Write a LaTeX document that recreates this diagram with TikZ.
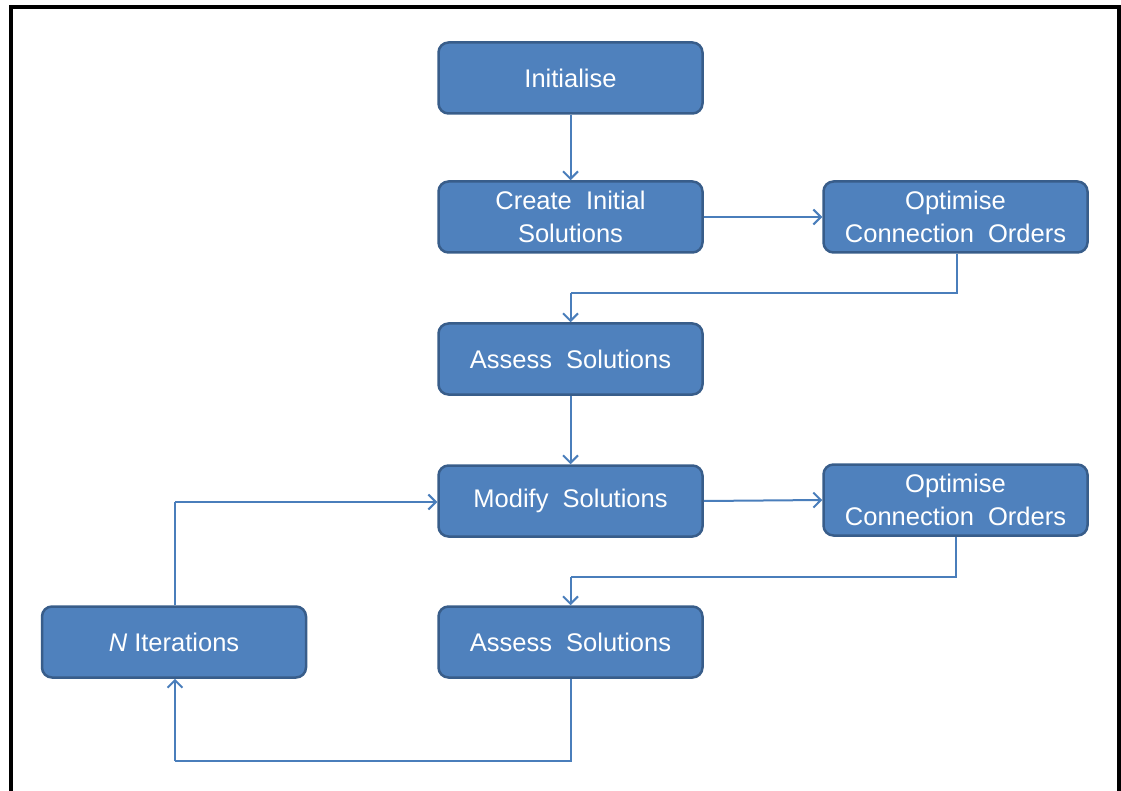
\documentclass[tikz,border=0pt]{standalone}
\usepackage{fontspec}
\setmainfont{Liberation Sans}
\usetikzlibrary{arrows.meta}
\definecolor{boxfill}{HTML}{4F81BD}
\definecolor{boxline}{HTML}{385D8A}
\definecolor{linkcol}{HTML}{4A7EBB}
\begin{document}
\begin{tikzpicture}[x=1pt,y=-1pt,
  stepbox/.style={draw=boxline, fill=boxfill, line width=2.5pt, rounded corners=10pt,
    minimum width=264pt, minimum height=71pt, inner sep=0pt, align=center,
    text=white, font=\fontsize{25.5}{33}\selectfont},
  link/.style={draw=linkcol, line width=2pt,
    -{Straight Barb[length=7.5pt,width=15pt,line width=2pt]}},
  plain/.style={draw=linkcol, line width=2pt}]
\useasboundingbox (0,0) rectangle (1121,791);
% frame, open at the bottom
\draw[line width=4pt] (10.5,800) -- (10.5,7.5) -- (1119,7.5) -- (1119,800);

\node[stepbox] (init)    at (570.5,78)  {Initialise};
\node[stepbox] (create)  at (570.5,217) {Create~ Initial\\Solutions};
\node[stepbox] (opt1)    at (955.5,217) {Optimise\\Connection~ Orders};
\node[stepbox] (assess1) at (570.5,359) {Assess~ Solutions};
\node[stepbox] (modify)  at (570.5,501) {Modify~ Solutions};
\node[stepbox] (opt2)    at (955.5,500) {Optimise\\Connection~ Orders};
\node[stepbox] (assess2) at (570.5,642) {Assess~ Solutions};
\node[stepbox] (niter)   at (174,642)   {\textit{N} Iterations};

\coordinate (o1a) at (957,293);
\coordinate (o1b) at (570.5,293);
\coordinate (o2a) at (956,577);
\coordinate (o2b) at (570.5,577);
\coordinate (lpa) at (570.5,761);
\coordinate (lpb) at (175,761);
\coordinate (upa) at (175,502);

\path[link] (init) -- (create);
\path[link] (create) -- (opt1);
\path[plain] (opt1.south -| o1a) -- (o1a) -- (o1b);
\path[link] (o1b) -- (assess1);
\path[link] (assess1) -- (modify);
\path[link] (modify.east) -- (opt2.west);
\path[plain] (opt2.south -| o2a) -- (o2a) -- (o2b);
\path[link] (o2b) -- (assess2);
\path[plain] (assess2) -- (lpa) -- (lpb);
\path[link] (lpb) -- (niter.south -| lpb);
\path[plain] (niter.north -| upa) -- (upa);
\path[link] (upa) -- (modify.west |- upa);
\end{tikzpicture}
\end{document}
